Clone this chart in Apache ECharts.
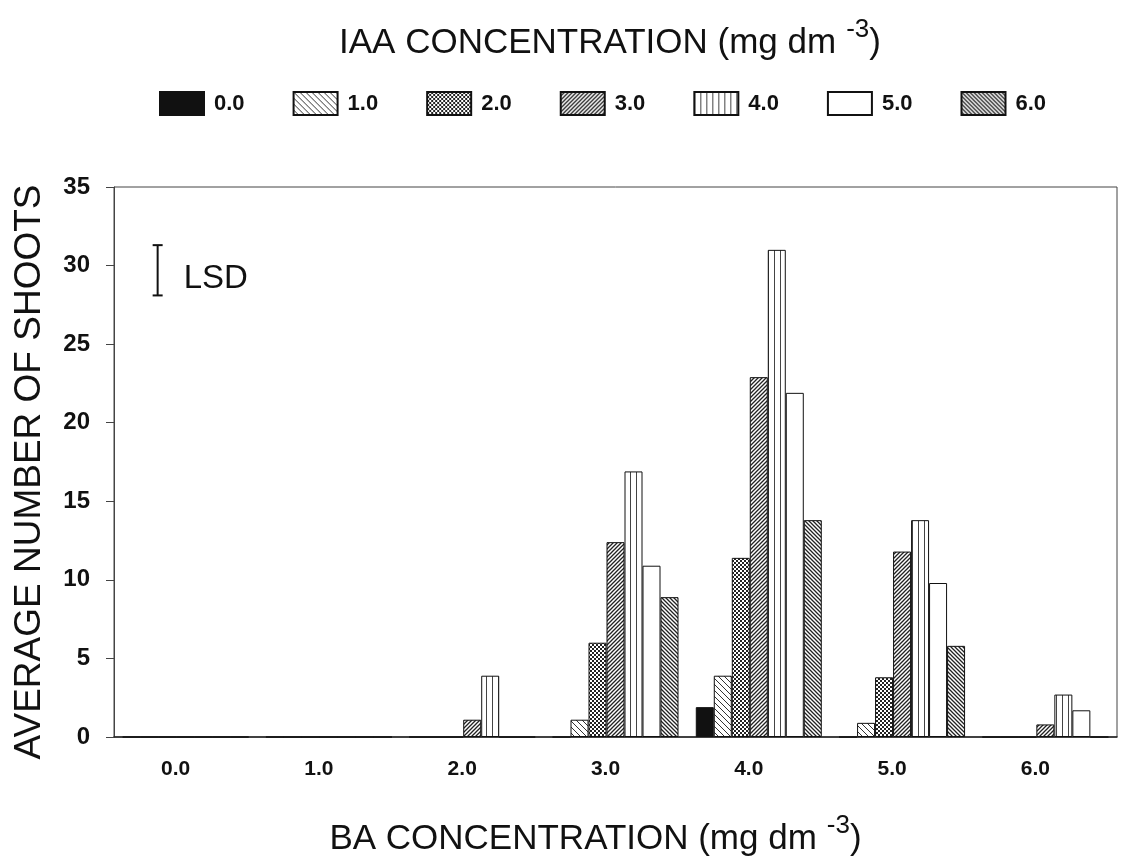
<!DOCTYPE html>
<html><head><meta charset="utf-8">
<script src="https://cdn.jsdelivr.net/npm/echarts@6/dist/echarts.min.js"></script>
<style>html,body{margin:0;padding:0;background:#fff}#c{width:1121px;height:862px}</style>
</head><body><div id="c"></div>
<script>
// ---- data ----
const categories = ['0.0', '1.0', '2.0', '3.0', '4.0', '5.0', '6.0'];
const seriesNames = ['0.0', '1.0', '2.0', '3.0', '4.0', '5.0', '6.0'];
const iaa00 = [0, 0, 0, 0, 1.9, 0, 0];
const iaa10 = [0, 0, 0, 1.1, 3.9, 0.9, 0];
const iaa20 = [0, 0, 0, 6.0, 11.4, 3.8, 0];
const iaa30 = [0, 0, 1.1, 12.4, 22.9, 11.8, 0.8];
const iaa40 = [0, 0, 3.9, 16.9, 31.0, 13.8, 2.7];
const iaa50 = [0, 0, 0, 10.9, 21.9, 9.8, 1.7];
const iaa60 = [0, 0, 0, 8.9, 13.8, 5.8, 0];
const yMin = 0, yMax = 35, yStep = 5;
const lsdRange = [28.1, 31.3];

// ---- patterns ----
function pat(w, h, draw) {
  const c = document.createElement('canvas');
  c.width = w; c.height = h;
  const g = c.getContext('2d');
  g.fillStyle = '#fff'; g.fillRect(0, 0, w, h);
  draw(g, w, h);
  return { image: c, repeat: 'repeat' };
}
function diagBack(size, lw, col) {
  return pat(size, size, (g, w, h) => {
    g.strokeStyle = col; g.lineWidth = lw;
    g.beginPath();
    g.moveTo(-1, -1); g.lineTo(w + 1, h + 1);
    g.moveTo(w - 1, -1); g.lineTo(w + 1, 1);
    g.moveTo(-1, h - 1); g.lineTo(1, h + 1);
    g.stroke();
  });
}
function diagFwd(size, lw, col) {
  return pat(size, size, (g, w, h) => {
    g.strokeStyle = col; g.lineWidth = lw;
    g.beginPath();
    g.moveTo(-1, h + 1); g.lineTo(w + 1, -1);
    g.moveTo(-1, 1); g.lineTo(1, -1);
    g.moveTo(w - 1, h + 1); g.lineTo(w + 1, h - 1);
    g.stroke();
  });
}
const fills = [
  '#111111',
  diagBack(6, 1, '#333'),
  pat(4, 4, (g) => { g.fillStyle = '#222'; g.fillRect(0, 0, 2, 2); g.fillRect(2, 2, 2, 2); }),
  diagFwd(4, 1.3, '#222'),
  pat(6, 1, (g) => { g.fillStyle = '#444'; g.fillRect(0, 0, 1, 1); }),
  '#ffffff',
  diagBack(4, 1.3, '#222')
];
const seriesData = [iaa00, iaa10, iaa20, iaa30, iaa40, iaa50, iaa60];

const FONT = "'Liberation Sans', Arial, sans-serif";
const chart = echarts.init(document.getElementById('c'), null, { renderer: 'canvas' });

const series = seriesNames.map((n, i) => ({
  name: n,
  type: 'bar',
  data: seriesData[i],
  barWidth: 18,
  barGap: '0%',
  itemStyle: { color: fills[i], borderColor: '#111', borderWidth: 1 },
  emphasis: { disabled: true },
  animation: false
}));

series.push({
  type: 'custom',
  name: 'LSD',
  data: [[0, lsdRange[0], lsdRange[1]]],
  animation: false,
  silent: true,
  renderItem: function (params, api) {
    const top = api.coord([api.value(0), api.value(2)]);
    const bot = api.coord([api.value(0), api.value(1)]);
    const x = top[0] - 28;
    const st = { stroke: '#111', lineWidth: 2 };
    return {
      type: 'group',
      children: [
        { type: 'line', shape: { x1: x, y1: top[1], x2: x, y2: bot[1] }, style: st },
        { type: 'line', shape: { x1: x - 5, y1: top[1], x2: x + 5, y2: top[1] }, style: st },
        { type: 'line', shape: { x1: x - 5, y1: bot[1], x2: x + 5, y2: bot[1] }, style: st },
        { type: 'text', x: x + 26, y: (top[1] + bot[1]) / 2 + 9,
          style: { text: 'LSD', fill: '#111', font: "33px " + FONT, verticalAlign: 'middle', align: 'left' } }
      ]
    };
  }
});

const richHead = {
  a: { fontFamily: FONT, fontSize: 35, fontWeight: 'normal', color: '#111' },
  s: { fontFamily: FONT, fontSize: 26, fontWeight: 'normal', color: '#111', padding: [0, 0, 26, 10] }
};

chart.setOption({
  backgroundColor: '#fff',
  animation: false,
  title: {
    text: '{a|IAA CONCENTRATION (mg dm}{s|-3}{a|)}',
    left: 334, top: 12,
    textStyle: { rich: richHead }
  },
  legend: {
    data: seriesNames,
    left: 159, top: 91,
    padding: 0,
    itemWidth: 44, itemHeight: 23,
    itemGap: 48,
    icon: 'rect',
    selectedMode: false,
    textStyle: { fontFamily: FONT, fontSize: 22, color: '#111', fontWeight: 'bold', padding: [0, 0, 0, 5] }
  },
  grid: { left: 114, right: 4, top: 187, bottom: 125, show: true, borderColor: '#444', borderWidth: 1 },
  xAxis: {
    type: 'category',
    data: categories,
    name: '{a|BA CONCENTRATION (mg dm}{s|-3}{a|)}',
    nameLocation: 'middle',
    nameGap: 76,
    nameTextStyle: {
      padding: [0, 40, 0, 0],
      rich: richHead
    },
    axisLine: { lineStyle: { color: '#222', width: 1.5 } },
    axisTick: { alignWithLabel: true, length: 7, lineStyle: { color: '#222' } },
    axisLabel: { fontFamily: FONT, fontSize: 21, color: '#111', fontWeight: 'bold', margin: 22, padding: [0, 20, 0, 0] },
    splitLine: { show: false }
  },
  yAxis: {
    type: 'value',
    min: yMin, max: yMax, interval: yStep,
    name: 'AVERAGE NUMBER OF SHOOTS',
    nameLocation: 'middle',
    nameGap: 66,
    nameTextStyle: { fontFamily: FONT, fontSize: 37, color: '#111', padding: [0, 20, 0, 0] },
    axisLine: { show: true, lineStyle: { color: '#444', width: 1 } },
    axisTick: { show: true, length: 8, lineStyle: { color: '#444' } },
    axisLabel: { fontFamily: FONT, fontSize: 24, color: '#111', fontWeight: 'bold', margin: 24 },
    splitLine: { show: false }
  },
  series: series
});
</script>
</body></html>
